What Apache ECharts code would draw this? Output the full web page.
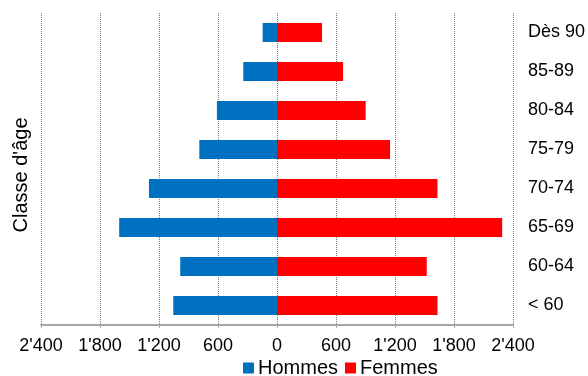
<!DOCTYPE html>
<html>
<head>
<meta charset="utf-8">
<script src="https://cdn.jsdelivr.net/npm/echarts@6/dist/echarts.min.js"></script>
<style>
  html, body { margin: 0; padding: 0; background: #fff; }
  #chart { width: 588px; height: 376px; }
</style>
</head>
<body>
<div id="chart"></div>
<script>
// Age classes, bottom to top
const ageClasses = ['< 60', '60-64', '65-69', '70-74', '75-79', '80-84', '85-89', 'Dès 90'];
// Population per age class
const hommes = [1055, 984, 1605, 1302, 790, 611, 343, 146];
const femmes = [1632, 1523, 2290, 1632, 1150, 902, 672, 458];
const seriesNames = ['Hommes', 'Femmes'];
const axisTitle = "Classe d'âge";

const FONT = 'Liberation Sans, Arial, sans-serif';

// Swiss-style thousands separator, absolute value for the mirrored axis
function fmt(v) {
  const n = Math.abs(Math.round(v));
  return String(n).replace(/\B(?=(\d{3})+(?!\d))/g, "'");
}

const chart = echarts.init(document.getElementById('chart'), null, { renderer: 'canvas' });

chart.setOption({
  animation: false,
  backgroundColor: '#ffffff',
  grid: { left: 41, right: 75, top: 13, bottom: 51, outerBoundsMode: 'none' },
  legend: {
    data: seriesNames,
    left: 243,
    top: 358,
    padding: 0,
    itemWidth: 11,
    itemHeight: 11,
    itemGap: 7,
    icon: 'rect',
    textStyle: { fontFamily: FONT, fontSize: 20, color: '#000', padding: [0, 0, 0, -1] }
  },
  xAxis: {
    type: 'value',
    min: -2400,
    max: 2400,
    interval: 600,
    axisLine: { show: true, lineStyle: { color: '#a6a6a6', width: 2 } },
    axisTick: { show: true, length: 3, lineStyle: { color: '#a6a6a6' } },
    axisLabel: {
      formatter: fmt,
      fontFamily: FONT,
      fontSize: 18,
      color: '#000',
      margin: 12
    },
    splitLine: { show: true, lineStyle: { color: '#7a7a7a', width: 1, type: [1, 1] } }
  },
  yAxis: [
    {
      type: 'category',
      data: ageClasses,
      position: 'right',
      axisLine: { show: false },
      axisTick: { show: false },
      axisLabel: { fontFamily: FONT, fontSize: 18, color: '#000', margin: 15 }
    },
    {
      type: 'category',
      data: ageClasses,
      position: 'left',
      axisLine: { show: false },
      axisTick: { show: false },
      axisLabel: { show: false },
      name: axisTitle,
      nameLocation: 'middle',
      nameRotate: 90,
      nameGap: 10,
      nameTextStyle: { fontFamily: FONT, fontSize: 20, color: '#000', padding: [0, 12, 0, 0] }
    }
  ],
  series: [
    {
      name: 'Hommes',
      type: 'bar',
      yAxisIndex: 0,
      data: hommes.map(v => -v),
      barWidth: 19,
      barGap: '-100%',
      itemStyle: { color: '#0070c0' }
    },
    {
      name: 'Femmes',
      type: 'bar',
      yAxisIndex: 0,
      data: femmes,
      barWidth: 19,
      barGap: '-100%',
      itemStyle: { color: '#ff0000' }
    }
  ]
});
</script>
</body>
</html>
